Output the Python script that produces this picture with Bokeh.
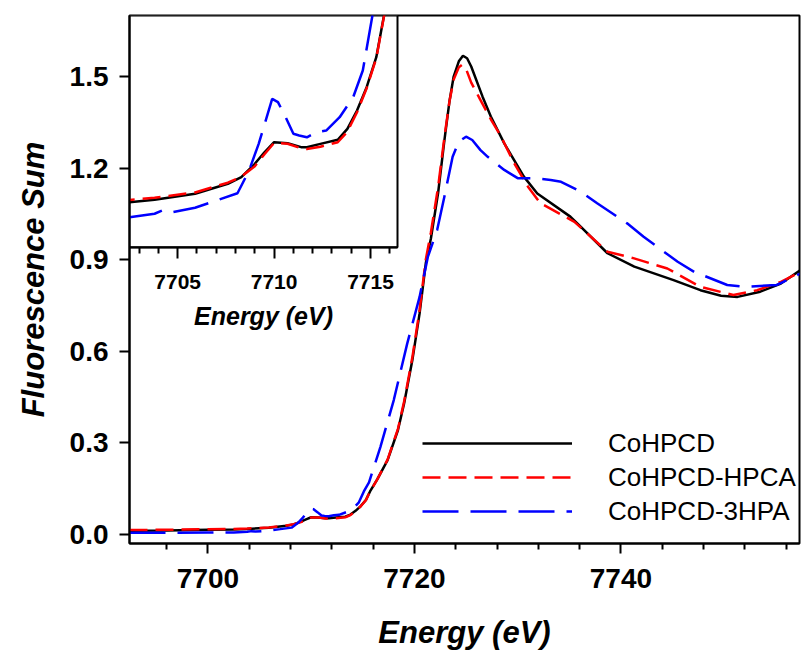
import numpy as np
from bokeh.plotting import figure
from bokeh.models import (Range1d, LinearAxis, FixedTicker, PrintfTickFormatter,
                          BoxAnnotation, Legend, LegendItem)
from bokeh.embed import file_html
from bokeh.resources import INLINE

# ---------------- data ----------------
black_x = [7692.4, 7696, 7700, 7702.5, 7703.8, 7705.9, 7707.6, 7708.3, 7709.0, 7709.5,
           7710.0, 7710.7, 7711.4, 7711.7, 7712.4, 7713.3, 7713.8, 7714.3, 7714.8, 7715.3,
           7715.7, 7716.4, 7717.4, 7718.4, 7719.0, 7719.8, 7720.5, 7721.1, 7721.6, 7722.3,
           7722.9, 7723.4, 7723.8, 7724.3, 7724.7, 7725.1, 7725.5, 7726.6, 7727.4, 7728.7,
           7730.6, 7731.9, 7735.1, 7736.1, 7738.7, 7741.3, 7745.1, 7747.7, 7749.7, 7751.3,
           7753.5, 7755.5, 7757.4]
black_y = [0.012, 0.013, 0.015, 0.016, 0.0176, 0.0216, 0.0283, 0.0327, 0.0416, 0.0493,
           0.056, 0.0553, 0.0527, 0.0527, 0.0549, 0.0576, 0.0649, 0.0771, 0.0927, 0.1127,
           0.1405, 0.18, 0.243, 0.341, 0.429, 0.571, 0.724, 0.888, 0.97, 1.12,
           1.29, 1.42, 1.50, 1.55, 1.568, 1.56, 1.533, 1.434, 1.369, 1.281,
           1.172, 1.117, 1.041, 1.008, 0.921, 0.877, 0.833, 0.800, 0.782, 0.778,
           0.795, 0.822, 0.866]

red_x = [7692.4, 7696, 7700, 7702.5, 7703.8, 7705.9, 7707.6, 7708.3, 7709.0, 7709.5,
         7710.0, 7710.7, 7711.4, 7711.7, 7712.4, 7713.3, 7713.8, 7714.3, 7714.8, 7715.3,
         7715.7, 7716.4, 7717.4, 7718.4, 7719.0, 7719.8, 7720.5, 7721.1, 7721.6, 7722.3,
         7722.9, 7723.4, 7723.8, 7724.3, 7724.6, 7725.0, 7725.5, 7726.4, 7727.4, 7728.4,
         7729.6, 7731.0, 7732.2, 7735.5, 7738.7, 7741.2, 7744.5, 7747.7, 7750.9, 7753.2,
         7755.5, 7757.4]
red_y = [0.014, 0.015, 0.017, 0.0175, 0.019, 0.0225, 0.029, 0.033, 0.040, 0.048,
         0.0555, 0.055, 0.052, 0.0515, 0.053, 0.056, 0.063, 0.076, 0.092, 0.112,
         0.140, 0.18, 0.245, 0.345, 0.435, 0.58, 0.735, 0.90, 0.99, 1.14,
         1.30, 1.42, 1.49, 1.53, 1.538, 1.525, 1.48, 1.423, 1.36, 1.303,
         1.22, 1.139, 1.085, 1.024, 0.926, 0.905, 0.871, 0.811, 0.784, 0.80,
         0.827, 0.860]

blue_x = [7692.4, 7696, 7700, 7702.5, 7703.8, 7704.2, 7704.6, 7705.9, 7707.0, 7708.1,
          7708.7, 7709.2, 7709.9, 7710.2, 7710.6, 7711.0, 7711.3, 7711.7, 7712.2, 7712.7,
          7713.4, 7714.1, 7714.6, 7715.1, 7715.6, 7716.7, 7718.0, 7719.3, 7720.5, 7721.3,
          7722.2, 7722.9, 7723.7, 7724.3, 7725.0, 7725.6, 7726.4, 7727.1, 7728.7, 7730.0,
          7731.6, 7733.2, 7734.2, 7736.1, 7737.7, 7740.6, 7742.2, 7745.5, 7747.1, 7750.3,
          7751.9, 7755.1, 7757.4]
blue_y = [0.005, 0.005, 0.006, 0.006, 0.0083, 0.0105, 0.009, 0.0123, 0.0171, 0.022,
          0.0371, 0.0549, 0.0849, 0.0827, 0.0727, 0.0616, 0.0605, 0.0593, 0.0627, 0.0638,
          0.0727, 0.086, 0.1038, 0.1405, 0.17, 0.286, 0.44, 0.625, 0.778, 0.909,
          0.997, 1.106, 1.237, 1.287, 1.303, 1.292, 1.259, 1.237, 1.194, 1.167,
          1.167, 1.161, 1.155, 1.123, 1.085, 1.019, 0.975, 0.893, 0.860, 0.817,
          0.811, 0.817, 0.855]

series_names = ["CoHPCD", "CoHPCD-HPCA", "CoHPCD-3HPA"]

# axes / ticks
X_RANGE = (7692.4, 7757.3)
Y_RANGE = (-0.03, 1.70)
x_major_ticks = [7700, 7720, 7740]
x_minor_ticks = [7692, 7696, 7704, 7708, 7712, 7716, 7724, 7728, 7732, 7736,
                 7744, 7748, 7752, 7756]
y_ticks = [0.0, 0.3, 0.6, 0.9, 1.2, 1.5]

INSET_X = (7702.5, 7716.4)
INSET_Y = (-0.014, 0.1405)
inset_major_ticks = [7705, 7710, 7715]
inset_minor_ticks = [7703, 7704, 7706, 7707, 7708, 7709, 7711, 7712, 7713, 7714, 7716]

# ---------------- layout ----------------
W, H = 802, 656
BL, BR, BT, BB = 129, 3, 15, 113
FRAME_W, FRAME_H = W - BL - BR, H - BT - BB
INSET_W, INSET_H = 268, 231.7

FONT = "Liberation Sans"
INK = "black"

p = figure(width=W, height=H, output_backend="svg", toolbar_location=None,
           x_range=Range1d(*X_RANGE), y_range=Range1d(*Y_RANGE),
           min_border_left=BL, min_border_right=BR, min_border_top=BT, min_border_bottom=BB)
p.background_fill_color = "white"
p.border_fill_color = "white"
p.xgrid.visible = False
p.ygrid.visible = False
p.outline_line_color = "black"
p.outline_line_width = 2
p.outline_line_alpha = 1

def style_axis(ax, tick_size, label_size, label_standoff, axis_label_standoff):
    ax.axis_label_text_font = FONT
    ax.axis_label_text_font_size = label_size
    ax.axis_label_text_font_style = "bold italic"
    ax.axis_label_text_color = INK
    ax.axis_label_standoff = axis_label_standoff
    ax.major_label_text_font = FONT
    ax.major_label_text_font_size = tick_size
    ax.major_label_text_font_style = "bold"
    ax.major_label_text_color = INK
    ax.major_label_standoff = label_standoff
    ax.axis_line_color = INK
    ax.axis_line_width = 2
    ax.major_tick_line_color = INK
    ax.minor_tick_line_color = INK
    ax.major_tick_line_width = 2
    ax.minor_tick_line_width = 2
    ax.major_tick_in = 0
    ax.minor_tick_in = 0

xa = p.xaxis[0]
xa.ticker = FixedTicker(ticks=x_major_ticks, minor_ticks=x_minor_ticks)
xa.axis_label = "Energy (eV)"
style_axis(xa, "28px", "31px", 15, 24)
xa.major_tick_out = 10
xa.minor_tick_out = 6

ya = p.yaxis[0]
ya.ticker = FixedTicker(ticks=y_ticks, minor_ticks=[])
ya.formatter = PrintfTickFormatter(format="%.1f")
ya.axis_label = "Fluorescence Sum"
style_axis(ya, "28px", "31px", 11, 16)
ya.major_tick_out = 10

# main curves
lw = 2.5
r_black = p.line(black_x, black_y, line_color="black", line_width=lw)
r_red = p.line(red_x, red_y, line_color="red", line_width=lw, line_dash="18 8")
r_blue = p.line(blue_x, blue_y, line_color="blue", line_width=lw, line_dash="36 12")

legend = Legend(items=[LegendItem(label=series_names[0], renderers=[r_black]),
                       LegendItem(label=series_names[1], renderers=[r_red]),
                       LegendItem(label=series_names[2], renderers=[r_blue])],
                location=(293, 15), orientation="vertical",
                glyph_width=150, glyph_height=34, label_height=34, spacing=0,
                label_standoff=36, padding=0, margin=0,
                label_text_font=FONT, label_text_font_size="26px", label_text_color=INK,
                border_line_alpha=0, background_fill_alpha=0)
p.add_layout(legend, "center")

# ---------------- inset (extra ranges mapped onto the upper-left box) ----------------
ix_end = INSET_X[0] + (INSET_X[1] - INSET_X[0]) * FRAME_W / INSET_W
iy_start = INSET_Y[1] - (INSET_Y[1] - INSET_Y[0]) * FRAME_H / INSET_H
p.extra_x_ranges = {"ix": Range1d(INSET_X[0], ix_end)}
p.extra_y_ranges = {"iy": Range1d(iy_start, INSET_Y[1])}

box = BoxAnnotation(left=INSET_X[0], right=INSET_X[1], bottom=INSET_Y[0], top=INSET_Y[1],
                    x_range_name="ix", y_range_name="iy",
                    fill_color="white", fill_alpha=1.0,
                    line_color="black", line_width=2, line_alpha=1.0, level="underlay")
p.add_layout(box)

def clip(xs, ys):
    xs = np.asarray(xs); ys = np.asarray(ys)
    m = xs <= INSET_X[1] + 0.1
    return xs[m], ys[m]

for xs, ys, col, dash in [(black_x, black_y, "black", "solid"),
                          (red_x, red_y, "red", "18 8"),
                          (blue_x, blue_y, "blue", "36 12")]:
    cx, cy = clip(xs, ys)
    p.line(cx, cy, line_color=col, line_width=lw, line_dash=dash,
           x_range_name="ix", y_range_name="iy")

iax = LinearAxis(x_range_name="ix", y_range_name="iy", fixed_location=INSET_Y[0],
                 bounds=INSET_X,
                 ticker=FixedTicker(ticks=inset_major_ticks, minor_ticks=inset_minor_ticks))
iax.axis_label = "Energy (eV)"
style_axis(iax, "21px", "25px", 17, 9)
iax.major_tick_out = 11
iax.minor_tick_out = 6
p.add_layout(iax, "below")

open("out.html", "w").write(file_html(p, INLINE))
